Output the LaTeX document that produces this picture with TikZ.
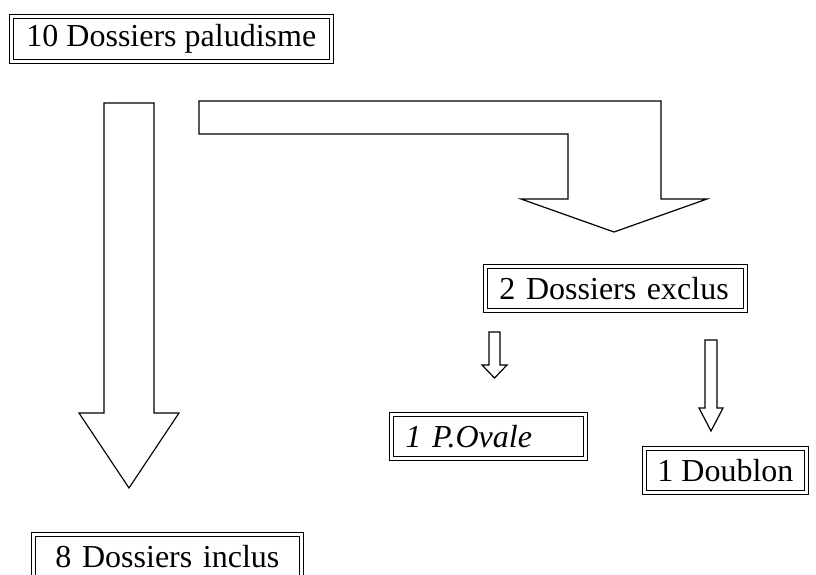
\documentclass[tikz,border=0pt]{standalone}
\usepackage{fontspec}
\setmainfont{Liberation Serif}
\usetikzlibrary{positioning}

\newcommand{\dossfont}{\fontsize{32}{38}\selectfont}

\begin{document}
\begin{tikzpicture}[
    x=1pt, y=-1pt,
    every node/.style={font=\dossfont},
    dossbox/.style={
      rectangle, draw, double, double distance=3pt, line width=0.9pt,
      anchor=north west, minimum height=44pt, inner xsep=14pt, inner ysep=0pt,
      align=left
    },
    blockarr/.style={draw, line width=1.2pt, fill=white, line join=miter}
  ]
    \useasboundingbox (0,0) rectangle (816,575);

    % ── Boxes ──
    \node[dossbox, minimum height=45pt, inner xsep=15pt] (palu) at (11,16) {10 Dossiers paludisme};
    \node[dossbox, text width=232pt] (exclus) at (485,266) {2 Dossiers exclus};
    \node[dossbox, text width=166pt, font=\dossfont\itshape] (ovale) at (391,414) {1 P.Ovale};
    \node[dossbox, inner xsep=13pt] (doublon) at (644,448) {1 Doublon};
    \node[dossbox, text width=240pt, align=center] (inclus) at (33,534) {8 Dossiers inclus};

    % ── Block arrows ──
    \draw[blockarr] (104,103) -- (154,103) -- (154,413) -- (179,413) -- (129,488)
      -- (79,413) -- (104,413) -- cycle;
    \draw[blockarr] (199,101) -- (661,101) -- (661,199) -- (707,199) -- (614,232)
      -- (521,199) -- (568,199) -- (568,134) -- (199,134) -- cycle;
    \draw[blockarr] (489,332) -- (500,332) -- (500,365) -- (507,365) -- (494.5,378)
      -- (482,365) -- (489,365) -- cycle;
    \draw[blockarr] (705,340) -- (717,340) -- (717,408) -- (723,408) -- (711,431)
      -- (699,408) -- (705,408) -- cycle;

  \end{tikzpicture}
\end{document}
